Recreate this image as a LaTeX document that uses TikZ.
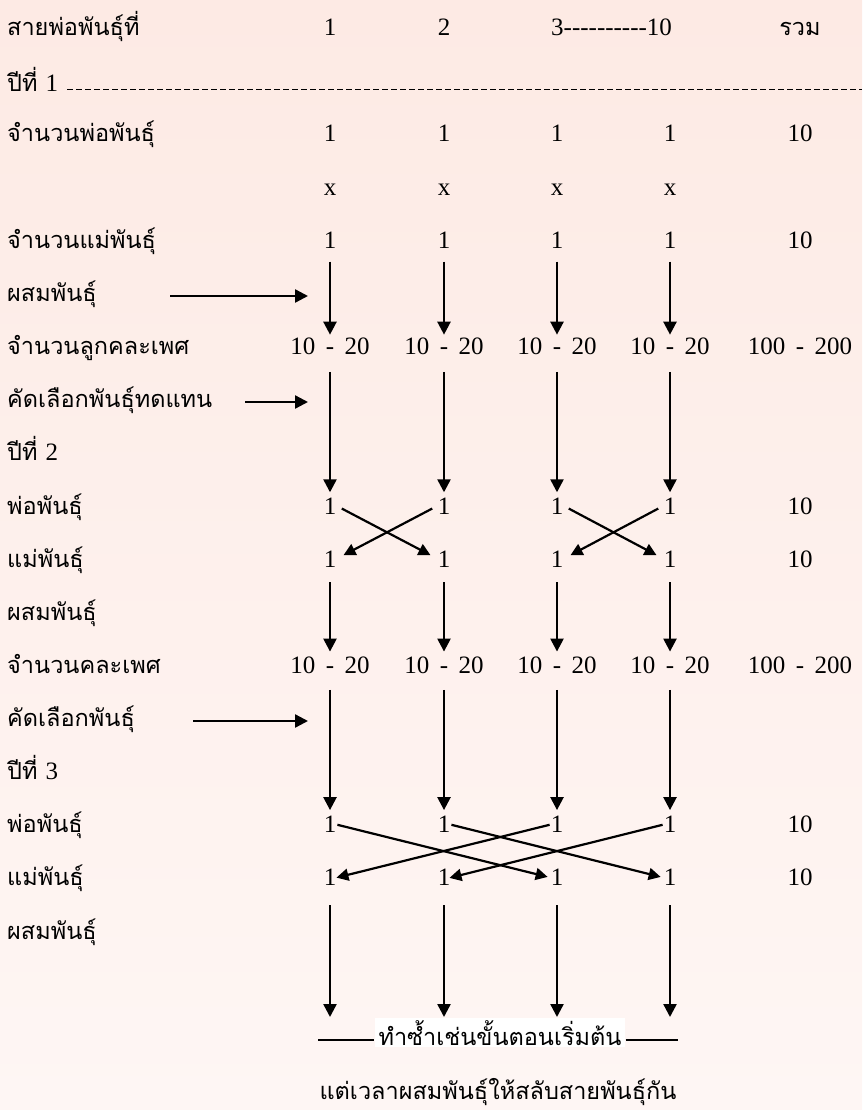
\documentclass[tikz,border=0pt]{standalone}
\usepackage{fontspec}
\setmainfont{Liberation Serif}
\newfontfamily\thai[Script=Thai]{Loma}
\usetikzlibrary{arrows.meta,calc}
\definecolor{bgtop}{RGB}{253,234,228}
\definecolor{bgbot}{RGB}{254,246,244}
\newcommand\hy{\mbox{-}}
\newcommand\rng[2]{#1\hspace{0.42em}-\hspace{0.42em}#2}
\newcommand\dg[1]{{\fontsize{25}{29}\rmfamily #1}}
\begin{document}
\begin{tikzpicture}[x=1pt,y=-1pt,
  lab/.style={anchor=base west,inner sep=0pt,font=\thai\fontsize{23.5}{27}\selectfont},
  num/.style={anchor=base,inner sep=0pt,font=\fontsize{25}{29}\selectfont},
  flow/.style={line width=2.4pt,-{Triangle[width=13pt,length=13pt]}},
  vflow/.style={flow,shorten <=15pt,shorten >=5pt},
  xtwo/.style={line width=2.2pt,-{Triangle[width=12pt,length=12pt]},shorten <=6pt,shorten >=8pt},
  xthree/.style={line width=2.2pt,-{Triangle[width=12pt,length=12pt]},shorten <=1pt,shorten >=3pt}
]
\shade[top color=bgtop,bottom color=bgbot] (0,0) rectangle (862,1110);
\useasboundingbox (0,0) rectangle (862,1110);

% header
\node[lab] (h0) at (7,35.7) {สายพ่อพันธุ์ที่};
\node[num] (hc1) at (330,35.7) {1};
\node[num] (hc2) at (444,35.7) {2};
\node[num,anchor=base west] (hc3) at (551,35.7) {3\hy\hy\hy\hy\hy\hy\hy\hy\hy\hy 10};
\node[lab,anchor=base] (hct) at (800,35.7) {รวม};

% year 1
\node[lab] (y1) at (7,92) {ปีที่ \dg{1}};
\coordinate (dl) at (67,90);
\coordinate (dr) at (862,90);
\draw[line width=1pt,dash pattern=on 6pt off 3pt] (dl) -- (dr);

\node[lab] (l2) at (7,142) {จำนวนพ่อพันธุ์};
\foreach \x [count=\i] in {330,444,557,670} {\node[num] (f\i) at (\x,142) {1};}
\node[num] (ft) at (800,142) {10};

\foreach \x [count=\i] in {330,444,557,670} {\node[num] (x\i) at (\x,195.1) {x};}

\node[lab] (l4) at (7,248.3) {จำนวนแม่พันธุ์};
\foreach \x [count=\i] in {330,444,557,670} {\node[num] (m\i) at (\x,248.3) {1};}
\node[num] (mt) at (800,248.3) {10};

\node[lab] (l5) at (7,301.4) {ผสมพันธุ์};
\coordinate (h1s) at (170,296);
\coordinate (h1e) at (308,296);
\draw[flow] (h1s) -- (h1e);

\node[lab] (l6) at (7,354.5) {จำนวนลูกคละเพศ};
\foreach \x [count=\i] in {330,444,557,670} {\node[num] (k\i) at (\x,354.5) {\rng{10}{20}};}
\node[num] (kt) at (800,354.5) {\rng{100}{200}};

\node[lab] (l7) at (7,407.7) {คัดเลือกพันธุ์ทดแทน};
\coordinate (h2s) at (245,402);
\coordinate (h2e) at (308,402);
\draw[flow] (h2s) -- (h2e);

\node[lab] (l8) at (7,460.8) {ปีที่ \dg{2}};

% year 2
\node[lab] (l9) at (7,514) {พ่อพันธุ์};
\foreach \x [count=\i] in {330,444,557,670} {\node[num] (a\i) at (\x,514) {1};}
\node[num] (at) at (800,514) {10};

\node[lab] (l10) at (7,567.1) {แม่พันธุ์};
\foreach \x [count=\i] in {330,444,557,670} {\node[num] (b\i) at (\x,567.1) {1};}
\node[num] (bt) at (800,567.1) {10};

\node[lab] (l11) at (7,620.2) {ผสมพันธุ์};

\node[lab] (l12) at (7,673.4) {จำนวนคละเพศ};
\foreach \x [count=\i] in {330,444,557,670} {\node[num] (c\i) at (\x,673.4) {\rng{10}{20}};}
\node[num] (ct) at (800,673.4) {\rng{100}{200}};

\node[lab] (l13) at (7,726.5) {คัดเลือกพันธุ์};
\coordinate (h3s) at (193,721);
\coordinate (h3e) at (308,721);
\draw[flow] (h3s) -- (h3e);

\node[lab] (l14) at (7,779.7) {ปีที่ \dg{3}};

% year 3
\node[lab] (l15) at (7,832.8) {พ่อพันธุ์};
\foreach \x [count=\i] in {330,444,557,670} {\node[num] (d\i) at (\x,832.8) {1};}
\node[num] (dt) at (800,832.8) {10};

\node[lab] (l16) at (7,885.9) {แม่พันธุ์};
\foreach \x [count=\i] in {330,444,557,670} {\node[num] (e\i) at (\x,885.9) {1};}
\node[num] (et) at (800,885.9) {10};

\node[lab] (l17) at (7,939.1) {ผสมพันธุ์};

\foreach \x [count=\i] in {330,444,557,670} {\coordinate (z\i) at (\x,1017);}

% vertical arrows
\foreach \i in {1,2,3,4} {
  \draw[vflow,shorten <=13pt,shorten >=3pt] (m\i.south) -- (k\i.north);
  \draw[vflow,shorten <=17pt,shorten >=5pt] (k\i.south) -- (a\i.north);
  \draw[vflow,shorten <=15pt,shorten >=5pt] (b\i.south) -- (c\i.north);
  \draw[vflow,shorten <=16pt,shorten >=6pt] (c\i.south) -- (d\i.north);
  \draw[vflow,shorten <=19pt,shorten >=0pt] (e\i.south) -- (z\i);
}

% crossings year 2
\draw[xtwo] (a1.east) -- (b2.west);
\draw[xtwo] (a2.west) -- (b1.east);
\draw[xtwo] (a3.east) -- (b4.west);
\draw[xtwo] (a4.west) -- (b3.east);

% crossings year 3
\draw[xthree] (d1.east) -- (e3.west);
\draw[xthree] (d2.east) -- (e4.west);
\draw[xthree,shorten >=0pt] (d3.west) -- (e1.east);
\draw[xthree,shorten >=-1pt] (d4.west) -- (e2.east);

% bottom
\node[lab,anchor=base,fill=white,inner xsep=4pt,inner ysep=2pt] (rep) at (500,1045) {ทำซ้ำเช่นขั้นตอนเริ่มต้น};
\coordinate (bl) at (318,1040);
\coordinate (br) at (678,1040);
\draw[line width=2.4pt] (bl) -- (bl -| rep.west);
\draw[line width=2.4pt] (rep.east |- br) -- (br);
\node[lab,anchor=base] (last) at (498,1099) {แต่เวลาผสมพันธุ์ให้สลับสายพันธุ์กัน};
\end{tikzpicture}
\end{document}
